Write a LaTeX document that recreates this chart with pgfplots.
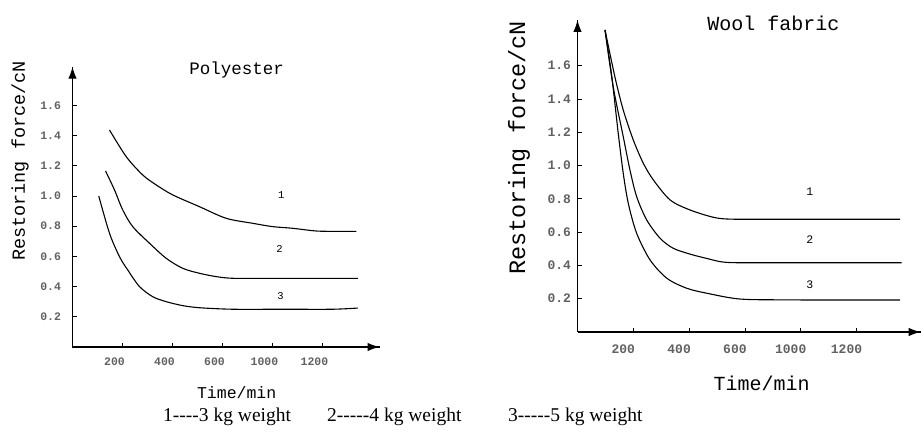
\documentclass[border=0pt]{standalone}
\usepackage{pgfplots}
\pgfplotsset{compat=1.18}
\usepackage{fontspec}
\usetikzlibrary{arrows.meta}
\setmainfont{Liberation Serif}
\newfontfamily\monofont{Liberation Mono}

% restoring force of polyester (three weights)
\pgfplotstableread{
x y
148 1.437
215 1.260
281 1.139
335 1.073
401 1.007
508 0.929
615 0.852
721 0.819
801 0.797
881 0.786
975 0.768
1055 0.766
1135 0.766
}\polyA
\pgfplotstableread{
x y
132 1.166
168 1.040
201 0.907
241 0.797
308 0.687
375 0.587
441 0.521
508 0.488
575 0.466
641 0.455
800 0.454
1000 0.454
1141 0.454
}\polyB
\pgfplotstableread{
x y
105 1.000
148 0.753
188 0.598
221 0.510
268 0.400
321 0.333
375 0.300
441 0.274
508 0.260
641 0.250
841 0.250
1041 0.250
1141 0.258
}\polyC

% restoring force of wool fabric (three weights)
\pgfplotstableread{
x y
98.6 1.814
134 1.533
164 1.333
200 1.153
236 1.013
272 0.913
332 0.793
403 0.733
487 0.689
547 0.678
700 0.677
900 0.677
1156 0.677
}\woolA
\pgfplotstableread{
x y
98.6 1.814
128 1.473
164 1.173
188 0.973
212 0.813
248 0.673
296 0.563
343 0.503
403 0.468
463 0.442
535 0.418
700 0.416
900 0.416
1162 0.416
}\woolB
\pgfplotstableread{
x y
98.6 1.814
123 1.533
146 1.193
164 0.953
182 0.773
212 0.593
260 0.433
320 0.323
391 0.263
463 0.233
582 0.198
750 0.193
950 0.192
1156 0.192
}\woolC

\tikzset{axisarrow/.tip={Latex[length=12pt,width=8.5pt]}}

\pgfplotsset{
  fabric/.style={
    scale only axis, anchor=south west, clip=false,
    xmin=0, ymin=0,
    axis x line=bottom, axis y line=left,
    axis line style={line width=1.2pt, -},
    tick align=inside, major tick length=4pt,
    tick style={black, line width=0.8pt},
    xtick={200,400,600,800,1000},
    xticklabels={200,400,600,1000,1200},
    ytick={0.2,0.4,0.6,0.8,1.0,1.2,1.4,1.6},
    yticklabels={0.2,0.4,0.6,0.8,1.0,1.2,1.4,1.6},
    /pgf/number format/assume math mode=true,
    every axis plot post/.append style={black, line width=1.1pt, smooth, tension=0.5, mark=none},
  },
}

\begin{document}
\begin{tikzpicture}
\useasboundingbox (0,0) rectangle (922pt,436pt);

\begin{axis}[fabric,
  at={(72.5pt,89pt)}, width=307pt, height=280.3pt,
  xmax=1228, ymax=1.856,
  ticklabel style={font=\monofont\bfseries\fontsize{11.5}{12}\selectfont, text=black!62},
  xticklabel style={yshift=-7pt, xshift=-8pt},
  yticklabel style={xshift=-8pt},
]
\addplot table {\polyA};
\addplot table {\polyB};
\addplot table {\polyC};
% arrow heads on both axis lines
\draw[line width=1.2pt, -axisarrow] (axis cs:0,0) -- (axis cs:1228,0);
\draw[line width=1.2pt, -axisarrow] (axis cs:0,0) -- (axis cs:0,1.856);
\node[font=\monofont\fontsize{10.5}{11}\selectfont] at (axis cs:835,1.007) {1};
\node[font=\monofont\fontsize{10.5}{11}\selectfont] at (axis cs:828,0.647) {2};
\node[font=\monofont\fontsize{10.5}{11}\selectfont] at (axis cs:832,0.338) {3};
\node[font=\monofont\fontsize{17.5}{18}\selectfont] at (axis cs:657,1.835) {Polyester};
\end{axis}

\begin{axis}[fabric,
  at={(577.5pt,104pt)}, width=343.2pt, height=312pt,
  xmax=1230, ymax=1.874,
  ticklabel style={font=\monofont\bfseries\fontsize{13}{14}\selectfont, text=black!62},
  xticklabel style={yshift=-9pt, xshift=-10pt},
  yticklabel style={xshift=-3pt},
]
\addplot table {\woolA};
\addplot table {\woolB};
\addplot table {\woolC};
\draw[line width=1.2pt, -axisarrow] (axis cs:0,0) -- (axis cs:1230,0);
\draw[line width=1.2pt, -axisarrow] (axis cs:0,0) -- (axis cs:0,1.874);
\node[font=\monofont\fontsize{11.5}{12}\selectfont] at (axis cs:833,0.843) {1};
\node[font=\monofont\fontsize{11.5}{12}\selectfont] at (axis cs:833,0.557) {2};
\node[font=\monofont\fontsize{11.5}{12}\selectfont] at (axis cs:833,0.282) {3};
\node[font=\monofont\fontsize{20}{21}\selectfont] at (axis cs:702,1.854) {Wool fabric};
\end{axis}

% axis titles
\node[rotate=90, font=\monofont\fontsize{18.5}{19}\selectfont] at (20pt,275pt) {Restoring force/cN};
\node[font=\monofont\fontsize{16.5}{17}\selectfont] at (236.7pt,43pt) {Time/min};
\node[rotate=90, font=\monofont\fontsize{23.5}{24}\selectfont] at (519pt,288pt) {Restoring force/cN};
\node[font=\monofont\fontsize{20}{21}\selectfont] at (761.7pt,52.7pt) {Time/min};

% weight key
\node[anchor=base west, inner sep=0pt, font=\fontsize{19.5}{20}\selectfont] at (163pt,14pt) {1-{}-{}-{}-3 kg weight};
\node[anchor=base west, inner sep=0pt, font=\fontsize{19.5}{20}\selectfont] at (327pt,14pt) {2-{}-{}-{}-{}-4 kg weight};
\node[anchor=base west, inner sep=0pt, font=\fontsize{19.5}{20}\selectfont] at (508pt,14pt) {3-{}-{}-{}-{}-5 kg weight};
\end{tikzpicture}
\end{document}
